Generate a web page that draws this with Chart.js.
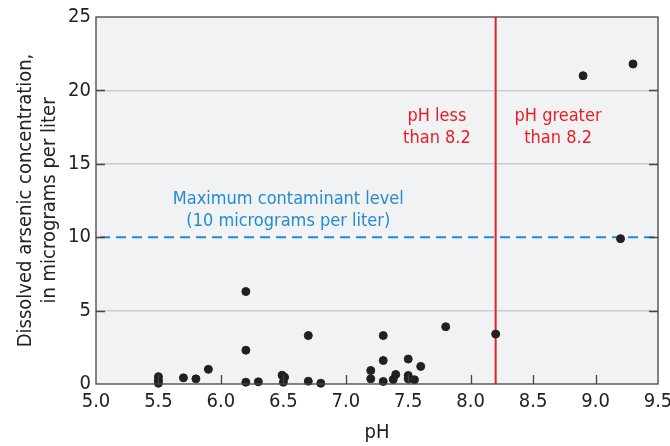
<!DOCTYPE html>
<html>
<head>
<meta charset="utf-8">
<script src="https://cdn.jsdelivr.net/npm/chart.js@4"></script>
<style>
  html, body { margin: 0; padding: 0; background: #fff; }
  #wrap { width: 670px; height: 446px; }
</style>
</head>
<body>
<div id="wrap"><canvas id="c"></canvas></div>
<script>
// pH vs dissolved arsenic (micrograms per liter)
var phValues = [5.5, 5.5, 5.5, 5.7, 5.8, 5.9,
                6.2, 6.2, 6.2, 6.3, 6.49, 6.51, 6.5, 6.7, 6.7, 6.8,
                7.2, 7.2, 7.3, 7.3, 7.3, 7.38, 7.4, 7.5, 7.5, 7.5, 7.55, 7.6,
                7.8, 8.2, 8.9, 9.2, 9.3];
var arsenicValues = [0.5, 0.25, 0.05, 0.42, 0.35, 1.0,
                     6.3, 2.3, 0.12, 0.15, 0.6, 0.46, 0.12, 3.3, 0.19, 0.05,
                     0.92, 0.35, 3.3, 1.6, 0.17, 0.31, 0.65, 1.7, 0.58, 0.35, 0.29, 1.2,
                     3.9, 3.4, 21.0, 9.9, 21.8];
var xTicks = [5.0, 5.5, 6.0, 6.5, 7.0, 7.5, 8.0, 8.5, 9.0, 9.5];
var yTicks = [0, 5, 10, 15, 20, 25];

var MCL = 10;        // maximum contaminant level
var PH_SPLIT = 8.2;  // vertical divider

var FONT = "'Liberation Sans Narrow', 'DejaVu Sans Condensed', sans-serif";
var RED = '#ec1c24';
var BLUE = '#238ccf';
var AXIS = '#444';

var points = [];
for (var i = 0; i < phValues.length; i++) {
  points.push({ x: phValues[i], y: arsenicValues[i] });
}

var decorPlugin = {
  id: 'decor',
  beforeDraw: function(chart) {
    var a = chart.chartArea, ctx = chart.ctx;
    ctx.save();
    ctx.fillStyle = '#f1f2f4';
    ctx.fillRect(a.left, a.top, a.right - a.left, a.bottom - a.top);
    ctx.restore();
  },
  beforeDatasetsDraw: function(chart) {
    var a = chart.chartArea, ctx = chart.ctx;
    var xs = chart.scales.x, ys = chart.scales.y;
    ctx.save();
    // MCL dashed line
    var yy = ys.getPixelForValue(MCL);
    ctx.strokeStyle = BLUE;
    ctx.lineWidth = 2;
    ctx.setLineDash([10, 6]);
    ctx.beginPath();
    ctx.moveTo(a.left + 4, yy);
    ctx.lineTo(a.right, yy);
    ctx.stroke();
    ctx.setLineDash([]);
    // pH 8.2 divider
    var xx = xs.getPixelForValue(PH_SPLIT);
    ctx.strokeStyle = RED;
    ctx.lineWidth = 2;
    ctx.beginPath();
    ctx.moveTo(xx, a.top);
    ctx.lineTo(xx, a.bottom);
    ctx.stroke();

    ctx.textAlign = 'center';
    ctx.textBaseline = 'middle';
    ctx.font = '18px ' + FONT;
    ctx.fillStyle = RED;
    ctx.fillText('pH less', xs.getPixelForValue(7.73), ys.getPixelForValue(18.2));
    ctx.fillText('than 8.2', xs.getPixelForValue(7.73), ys.getPixelForValue(16.75));
    ctx.fillText('pH greater', xs.getPixelForValue(8.7), ys.getPixelForValue(18.2));
    ctx.fillText('than 8.2', xs.getPixelForValue(8.7), ys.getPixelForValue(16.75));
    ctx.fillStyle = BLUE;
    ctx.fillText('Maximum contaminant level', xs.getPixelForValue(6.54), ys.getPixelForValue(12.6));
    ctx.fillText('(10 micrograms per liter)', xs.getPixelForValue(6.54), ys.getPixelForValue(11.1));
    ctx.restore();
  },
  afterDraw: function(chart) {
    var a = chart.chartArea, ctx = chart.ctx;
    var xs = chart.scales.x, ys = chart.scales.y;
    ctx.save();
    ctx.strokeStyle = AXIS;
    ctx.lineWidth = 1.3;
    ctx.strokeRect(a.left, a.top, a.right - a.left, a.bottom - a.top);
    ctx.beginPath();
    for (var i = 1; i < xTicks.length - 1; i++) {
      var px = Math.round(xs.getPixelForValue(xTicks[i])) + 0.5;
      ctx.moveTo(px, a.bottom);
      ctx.lineTo(px, a.bottom - 9);
    }
    for (var j = 1; j < yTicks.length - 1; j++) {
      var py = Math.round(ys.getPixelForValue(yTicks[j])) + 0.5;
      ctx.moveTo(a.left, py);
      ctx.lineTo(a.left + 9, py);
      ctx.moveTo(a.right, py);
      ctx.lineTo(a.right - 9, py);
    }
    ctx.stroke();
    ctx.restore();
  }
};

new Chart(document.getElementById('c'), {
  type: 'scatter',
  data: {
    datasets: [{
      data: points,
      backgroundColor: '#231f20',
      borderColor: '#231f20',
      pointRadius: 4,
      pointHoverRadius: 4,
      clip: false
    }]
  },
  options: {
    responsive: true,
    maintainAspectRatio: false,
    animation: false,
    layout: { padding: { left: 0, right: 12, top: 15, bottom: 0 } },
    plugins: {
      legend: { display: false },
      tooltip: { enabled: false }
    },
    scales: {
      x: {
        type: 'linear',
        min: 5,
        max: 9.5,
        afterBuildTicks: function(s) { s.ticks = xTicks.map(function(v) { return { value: v }; }); },
        afterFit: function(s) { s.height = 62; s.paddingLeft = 0; s.paddingRight = 0; },
        ticks: {
          color: '#222',
          padding: 6,
          maxRotation: 0,
          font: { family: FONT, size: 20 },
          callback: function(v) { return Number(v).toFixed(1); }
        },
        grid: { display: false, drawTicks: false },
        border: { display: false },
        title: {
          display: true,
          text: 'pH',
          color: '#222',
          padding: { top: 0, bottom: 1 },
          font: { family: FONT, size: 20 }
        }
      },
      y: {
        min: 0,
        max: 25,
        afterBuildTicks: function(s) { s.ticks = yTicks.map(function(v) { return { value: v }; }); },
        afterFit: function(s) { s.width = 96; },
        ticks: {
          color: '#222',
          padding: 5,
          font: { family: FONT, size: 20 }
        },
        grid: {
          color: function(c) { return (c.tick && (c.tick.value === 0 || c.tick.value === 25 || c.tick.value === MCL)) ? 'rgba(0,0,0,0)' : '#cbcccf'; },
          lineWidth: 1.5,
          drawTicks: false
        },
        border: { display: false },
        title: {
          display: true,
          text: ['Dissolved arsenic concentration,', 'in micrograms per liter'],
          color: '#222',
          padding: { top: 14, bottom: 0 },
          font: { family: FONT, size: 20 }
        }
      }
    }
  },
  plugins: [decorPlugin]
});
</script>
</body>
</html>
